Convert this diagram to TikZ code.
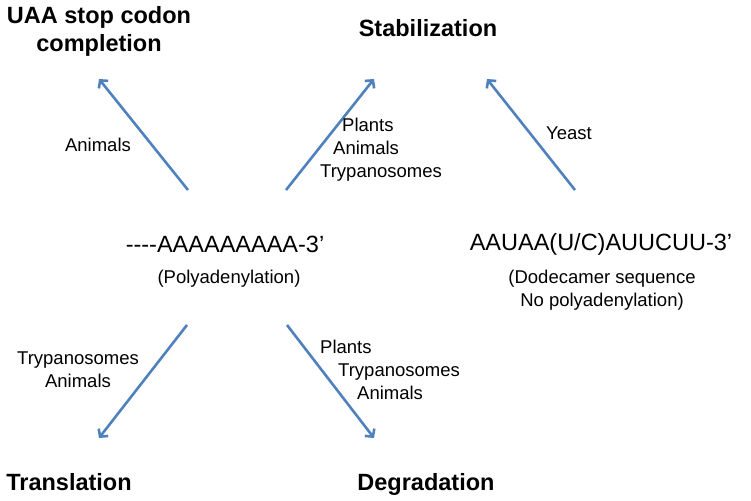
\documentclass[tikz,border=0pt]{standalone}
\usepackage{fontspec}
\setmainfont{Liberation Sans}
\usetikzlibrary{arrows.meta}
\definecolor{arrblue}{RGB}{79,129,189}
\tikzset{
  head/.style={font=\fontsize{23.5}{28}\selectfont\bfseries, inner sep=0pt, align=center},
  seq/.style={font=\fontsize{23.5}{28}\selectfont, inner sep=0pt},
  note/.style={font=\fontsize{18.5}{23}\selectfont, inner sep=0pt},
  conn/.style={draw=arrblue, line width=2.6pt, -{Straight Barb[length=5.5pt,width=12pt,line width=2.6pt]}}
}
\begin{document}
\begin{tikzpicture}[x=1pt,y=-1pt]
\useasboundingbox (0,0) rectangle (751,500);
% headings
\node[head] (uaa) at (99,31) {UAA stop codon\\completion};
\node[head, anchor=base] (stab) at (428,37) {Stabilization};
\node[head, anchor=base] (trans) at (69,490) {Translation};
\node[head, anchor=base] (degr) at (426,490) {Degradation};
% sequences
\node[seq, anchor=base] (polya) at (225,252) {\mbox{-}\mbox{-}\mbox{-}\mbox{-}AAAAAAAAA-3’};
\node[note, anchor=base] (polyad) at (229,283) {(Polyadenylation)};
\node[seq, anchor=base] (dodec) at (601,250) {AAUAA(U/C)AUUCUU-3’};
\node[note, align=center] (dodecn) at (602,290) {(Dodecamer sequence\\No polyadenylation)};
% connector end points
\coordinate (a1s) at (188,190); \coordinate (a1e) at (99,79);
\coordinate (a2s) at (286,190); \coordinate (a2e) at (374,79);
\coordinate (a3s) at (575,190); \coordinate (a3e) at (487,79);
\coordinate (a4s) at (187,325); \coordinate (a4e) at (99,438);
\coordinate (a5s) at (287,325); \coordinate (a5e) at (374,438);
% connectors
\draw[conn] (a1s) -- (a1e);
\draw[conn] (a2s) -- (a2e);
\draw[conn] (a3s) -- (a3e);
\draw[conn] (a4s) -- (a4e);
\draw[conn] (a5s) -- (a5e);
% labels
\node[note] (l1) at (98,145) {Animals};
\node[note, align=left, anchor=west] (l2) at (320,150) {\hspace*{22pt}Plants\\\hspace*{13pt}Animals\\Trypanosomes};
\node[note] (l3) at (569,133) {Yeast};
\node[note, align=center] (l4) at (78,370) {Trypanosomes\\Animals};
\node[note, align=left, anchor=west] (l5) at (320,370) {Plants\\\hspace*{18pt}Trypanosomes\\\hspace*{37pt}Animals};
\end{tikzpicture}
\end{document}
